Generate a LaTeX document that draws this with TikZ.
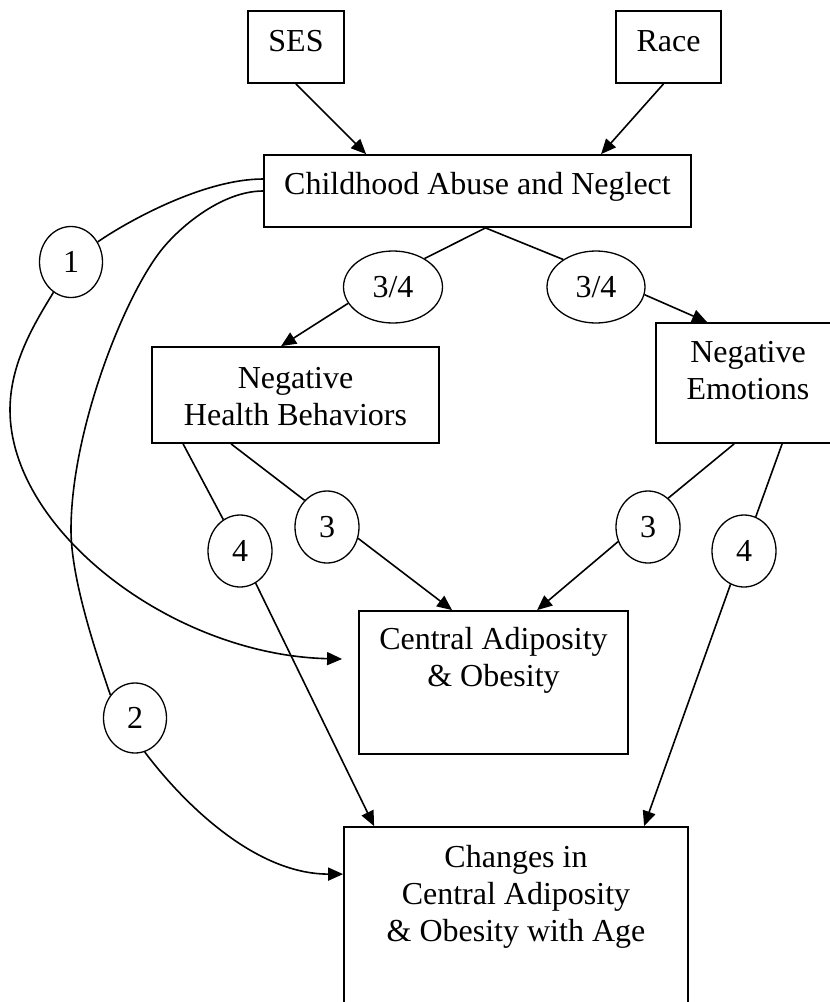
\documentclass[tikz,border=0pt]{standalone}
\usepackage{fontspec}
\setmainfont{Liberation Serif}
\usetikzlibrary{arrows.meta,shapes.geometric}
\newcommand{\mlines}[1]{\begin{tabular}[t]{@{}c@{}}#1\end{tabular}}
\begin{document}
\begin{tikzpicture}[x=1pt,y=-1pt,
  txt/.style={font=\fontsize{32}{37}\selectfont},
  box/.style={txt,draw,line width=1.8pt,rectangle,inner sep=0pt,anchor=base},
  oval/.style={txt,draw,line width=1.3pt,ellipse,inner sep=0pt},
  conn/.style={line width=1.6pt},
  arr/.style={conn,-{Triangle[length=15pt,width=13pt]}}
]
\useasboundingbox (0,0) rectangle (830,1002);
% boxes (anchored at the baseline of their first text line)
\node[box,minimum width=96pt,text height=40pt,text depth=32pt] (ses) at (296,51) {SES};
\node[box,minimum width=105pt,text height=40pt,text depth=32pt] (race) at (668.5,51) {Race};
\node[box,minimum width=427pt,text height=39pt,text depth=33pt] (cab) at (477.5,194) {Childhood Abuse and Neglect};
\node[box,minimum width=287pt,text height=41pt,text depth=55pt] (nhb) at (295.5,388) {\mlines{Negative\\Health Behaviors}};
\node[box,minimum width=184pt,text height=39pt,text depth=81pt] (ne) at (748,362) {\mlines{Negative\\Emotions}};
\node[box,minimum width=269pt,text height=38pt,text depth=105pt] (ca) at (493.5,649) {\mlines{Central Adiposity\\\& Obesity}};
\node[box,minimum width=344pt,text height=40pt,text depth=143pt] (chg) at (516,867) {\mlines{Changes in\\Central Adiposity\\\& Obesity with Age}};
% path labels
\node[oval,minimum width=63pt,minimum height=71pt] (e1) at (71,262) {1};
\node[oval,minimum width=99pt,minimum height=72pt] (e34L) at (393,287) {3/4};
\node[oval,minimum width=98pt,minimum height=72pt] (e34R) at (596,287) {3/4};
\node[oval,minimum width=64pt,minimum height=72pt] (e3L) at (327,527) {3};
\node[oval,minimum width=64pt,minimum height=72pt] (e3R) at (648,527) {3};
\node[oval,minimum width=64pt,minimum height=72pt] (e4L) at (240,551) {4};
\node[oval,minimum width=64pt,minimum height=72pt] (e4R) at (744,551) {4};
\node[oval,minimum width=63pt,minimum height=70pt] (e2) at (135,718) {2};
% helper coordinates
\coordinate (split) at ([xshift=8pt]cab.south);
\coordinate (c1) at (10,410);
\coordinate (c2a) at (163,248);
\coordinate (c2b) at (71,530);
% straight connectors
\draw[arr] (ses.south) -- ([xshift=103pt]cab.north west);
\draw[arr] ([xshift=-5pt]race.south) -- ([xshift=338pt]cab.north west);
\draw[conn] (split) -- (e34L.42);
\draw[conn] (split) -- (e34R.140);
\draw[arr] (e34L.200) -- ([xshift=130pt]nhb.north west);
\draw[arr] (e34R.351) -- ([xshift=52pt]ne.north west);
\draw[conn] ([xshift=32pt]nhb.south west) -- (e4L);
\draw[arr] (e4L) -- ([xshift=31pt]chg.north west);
\draw[conn] ([xshift=80pt]nhb.south west) -- (e3L.130);
\draw[arr] (e3L.340) -- ([xshift=94pt]ca.north west);
\draw[conn] ([xshift=79pt]ne.south west) -- (e3R.55);
\draw[arr] (e3R.206) -- ([xshift=179pt]ca.north west);
\draw[conn] ([xshift=127pt]ne.south west) -- (e4R.71);
\draw[arr] (e4R.248) -- ([xshift=301pt]chg.north west);
% curved path 1
\draw[conn] ([yshift=12pt]cab.west) .. controls +(-60,0) and +(29,-20) .. (e1.37);
\draw[arr] (e1.240) .. controls +(-21,34) and +(0,-45) .. (c1)
  .. controls +(0,120) and +(-170,-4) .. ([xshift=-16pt,yshift=23.5pt]ca.west);
% curved path 2
\draw[conn] (cab.west) .. controls +(-40,0) and +(19,-23) .. (c2a)
  .. controls +(-38,46) and +(0,-100) .. (c2b)
  .. controls +(0,50) and +(-13,-38) .. (e2.137);
\draw[arr] (e2.286) .. controls +(36,48) and +(-90,0) .. ([yshift=-48pt]chg.north west);
\end{tikzpicture}
\end{document}
